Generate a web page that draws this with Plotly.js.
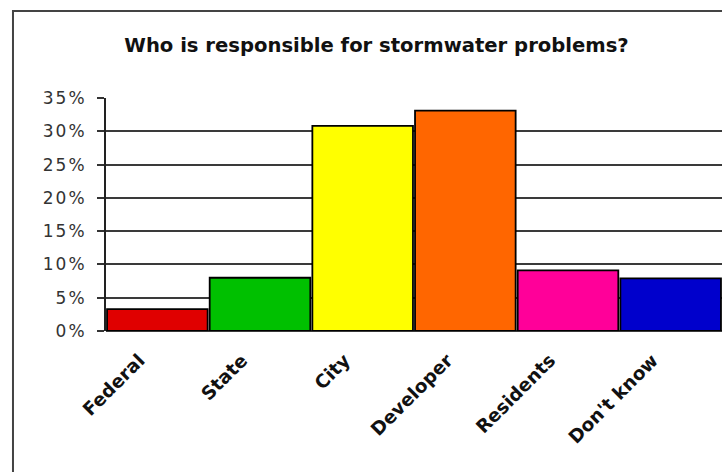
<!DOCTYPE html>
<html>
<head>
<meta charset="utf-8">
<script src="https://cdn.plot.ly/plotly-3.0.1.min.js"></script>
<style>
  html, body { margin: 0; padding: 0; background: #fff; overflow: hidden; }
  #chart { width: 722px; height: 472px; }
  .ytick text { letter-spacing: 2px; }
</style>
</head>
<body>
<div id="chart"></div>
<script>
const categories = ["Federal", "State", "City", "Developer", "Residents", "Don't know"];
const shares = [3.3, 8.0, 30.8, 33.1, 9.1, 7.9];
const barColors = ["#e00000", "#00c000", "#ffff00", "#ff6600", "#ff0099", "#0000cc"];
const yTickValues = [0, 5, 10, 15, 20, 25, 30, 35];
const yTickLabels = ["0%", "5%", "10%", "15%", "20%", "25%", "30%", "35%"];
const chartTitle = "Who is responsible for stormwater problems?";

const trace = {
  type: "bar",
  x: categories,
  y: shares,
  marker: { color: barColors, line: { color: "#000", width: 1.8 } },
  hoverinfo: "x+y"
};

const layout = {
  width: 722,
  height: 472,
  margin: { l: 106, r: 0, t: 98, b: 141, pad: 0 },
  paper_bgcolor: "#fff",
  plot_bgcolor: "#fff",
  showlegend: false,
  bargap: 0.02,
  title: {
    text: "<b>" + chartTitle + "</b>",
    font: { family: "DejaVu Sans", size: 19.6, color: "#111" },
    xref: "container", x: 0.5215, xanchor: "center",
    yref: "container", y: 0.905, yanchor: "middle"
  },
  xaxis: {
    type: "category",
    range: [-0.5, 5.5],
    tickangle: -45,
    ticks: "",
    showline: false,
    showgrid: false,
    ticklabelstandoff: 14,
    ticklabelshift: -18,
    tickfont: { family: "DejaVu Sans", size: 18.5, color: "#111", weight: "bold" }
  },
  yaxis: {
    range: [0, 35],
    tickvals: yTickValues,
    ticktext: yTickLabels,
    ticks: "outside",
    ticklen: 7,
    tickwidth: 2,
    tickcolor: "#333",
    ticklabelstandoff: 7,
    showline: true,
    linecolor: "#222",
    linewidth: 2,
    showgrid: true,
    gridcolor: "#3a3a3a",
    gridwidth: 2,
    zeroline: true,
    zerolinecolor: "#3a3a3a",
    zerolinewidth: 2,
    tickfont: { family: "DejaVu Sans", size: 17, color: "#333" }
  },
  shapes: [{
    type: "rect",
    xref: "paper", yref: "paper",
    x0: -0.151, x1: 1.4, y0: -1, y1: 1.3734,
    line: { color: "#444", width: 2 },
    fillcolor: "rgba(0,0,0,0)",
    layer: "below"
  }]
};

Plotly.newPlot("chart", [trace], layout, { displayModeBar: false, staticPlot: true });
</script>
</body>
</html>
